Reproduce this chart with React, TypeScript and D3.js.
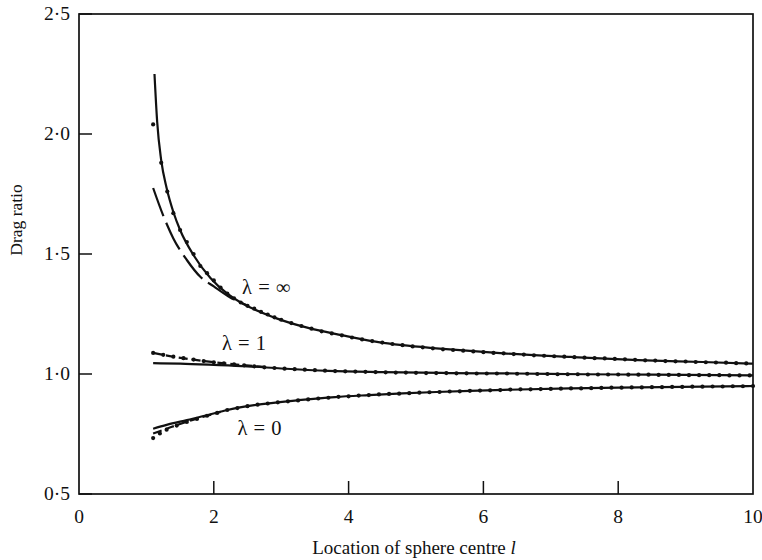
import React from "react";
import * as d3 from "d3";

type P = [number, number];

const xTicks = [0, 2, 4, 6, 8, 10];
const yTicks = [0.5, 1.0, 1.5, 2.0, 2.5];

// λ = ∞
const infTheory: P[] = [[1.12, 2.25], [1.16, 2.05], [1.22, 1.89], [1.3, 1.775], [1.4, 1.675], [1.5, 1.6], [1.7, 1.495], [1.95, 1.4], [2.2, 1.335], [2.4, 1.298], [2.9, 1.235], [3.4, 1.192], [3.9, 1.162], [4.4, 1.135], [4.8, 1.12], [5.3, 1.107], [5.8, 1.096], [6.3, 1.086], [7.3, 1.071], [8.3, 1.058], [9.25, 1.05], [10, 1.043]];
const infApprox: P[] = [[1.1, 1.775], [1.25, 1.66], [1.4, 1.565], [1.6, 1.475], [1.8, 1.405], [2.0, 1.365], [2.25, 1.318], [2.5, 1.285]];
const infDots: P[] = [[1.1, 2.04], [1.22, 1.88], [1.31, 1.76], [1.4, 1.67], [1.5, 1.6], [1.6, 1.55], [1.7, 1.5], [1.8, 1.45], [1.9, 1.42], [2.0, 1.39], [2.1, 1.36], [2.2, 1.335], [2.3, 1.315], [2.4, 1.298], [2.5, 1.284], [2.6, 1.272], [2.7, 1.259], [2.8, 1.248], [2.9, 1.236], [3.0, 1.226], [3.15, 1.212], [3.3, 1.2], [3.45, 1.189], [3.6, 1.178], [3.75, 1.169], [3.9, 1.161], [4.05, 1.152], [4.2, 1.144], [4.35, 1.137], [4.5, 1.131], [4.65, 1.125], [4.8, 1.12], [4.95, 1.115], [5.1, 1.111], [5.25, 1.107], [5.4, 1.103], [5.55, 1.1], [5.7, 1.097], [5.85, 1.094], [6.0, 1.091], [6.15, 1.088], [6.3, 1.086], [6.45, 1.083], [6.6, 1.081], [6.75, 1.078], [6.9, 1.076], [7.05, 1.074], [7.2, 1.072], [7.35, 1.07], [7.5, 1.068], [7.65, 1.066], [7.8, 1.065], [7.95, 1.063], [8.1, 1.061], [8.25, 1.059], [8.4, 1.057], [8.55, 1.056], [8.7, 1.054], [8.85, 1.053], [9.0, 1.052], [9.15, 1.05], [9.3, 1.049], [9.45, 1.048], [9.6, 1.047], [9.75, 1.045], [9.9, 1.044]];

// λ = 1
const oneTheory: P[] = [[1.1, 1.045], [1.5, 1.043], [2.0, 1.038], [2.5, 1.032], [3.0, 1.023], [3.7, 1.013], [4.5, 1.008], [5.5, 1.004], [6.5, 1.002], [7.5, 0.999], [8.5, 0.997], [10, 0.994]];
const oneApprox: P[] = [[1.1, 1.088], [1.4, 1.072], [1.7, 1.06], [2.0, 1.049], [2.4, 1.038], [2.8, 1.028]];
const oneDots: P[] = [[1.1, 1.088], [1.25, 1.08], [1.4, 1.072], [1.55, 1.066], [1.7, 1.06], [1.85, 1.054], [2.0, 1.049], [2.15, 1.044], [2.3, 1.04], [2.45, 1.036], [2.6, 1.032], [2.75, 1.028], [2.9, 1.025], [3.05, 1.022], [3.2, 1.02], [3.35, 1.018], [3.5, 1.016], [3.65, 1.014], [3.8, 1.012], [3.95, 1.011], [4.1, 1.01], [4.25, 1.009], [4.4, 1.008], [4.55, 1.007], [4.7, 1.006], [4.85, 1.006], [5.0, 1.005], [5.15, 1.004], [5.3, 1.004], [5.45, 1.004], [5.6, 1.003], [5.75, 1.003], [5.9, 1.002], [6.05, 1.002], [6.2, 1.002], [6.35, 1.002], [6.5, 1.001], [6.65, 1.001], [6.8, 1.0], [6.95, 1.0], [7.1, 0.999], [7.25, 0.999], [7.4, 0.999], [7.55, 0.998], [7.7, 0.998], [7.85, 0.998], [8.0, 0.998], [8.15, 0.997], [8.3, 0.997], [8.45, 0.997], [8.6, 0.996], [8.75, 0.996], [8.9, 0.996], [9.05, 0.995], [9.2, 0.995], [9.35, 0.995], [9.5, 0.995], [9.65, 0.994], [9.8, 0.994], [9.95, 0.994]];

// λ = 0
const zeroTheory: P[] = [[1.1, 0.772], [1.3, 0.788], [1.6, 0.808], [1.9, 0.828], [2.2, 0.85], [2.6, 0.87], [3.3, 0.892], [3.8, 0.904], [4.3, 0.912], [4.8, 0.919], [5.3, 0.925], [5.8, 0.93], [6.3, 0.934], [7.3, 0.94], [8.3, 0.944], [9.25, 0.947], [10, 0.95]];
const zeroApprox: P[] = [[1.1, 0.752], [1.3, 0.772], [1.5, 0.792], [1.7, 0.81], [1.9, 0.826], [2.1, 0.842]];
const zeroDots: P[] = [[1.1, 0.733], [1.2, 0.752], [1.3, 0.768], [1.45, 0.785], [1.6, 0.8], [1.75, 0.813], [1.9, 0.826], [2.05, 0.838], [2.2, 0.85], [2.35, 0.858], [2.5, 0.866], [2.65, 0.872], [2.8, 0.877], [2.95, 0.882], [3.1, 0.886], [3.25, 0.89], [3.4, 0.894], [3.55, 0.898], [3.7, 0.901], [3.85, 0.905], [4.0, 0.907], [4.15, 0.91], [4.3, 0.912], [4.45, 0.915], [4.6, 0.917], [4.75, 0.918], [4.9, 0.92], [5.05, 0.922], [5.2, 0.924], [5.35, 0.925], [5.5, 0.927], [5.65, 0.928], [5.8, 0.93], [5.95, 0.931], [6.1, 0.932], [6.25, 0.933], [6.4, 0.935], [6.55, 0.936], [6.7, 0.936], [6.85, 0.937], [7.0, 0.938], [7.15, 0.939], [7.3, 0.94], [7.45, 0.94], [7.6, 0.941], [7.75, 0.942], [7.9, 0.943], [8.05, 0.943], [8.2, 0.944], [8.35, 0.944], [8.5, 0.945], [8.65, 0.945], [8.8, 0.946], [8.95, 0.946], [9.1, 0.947], [9.25, 0.947], [9.4, 0.948], [9.55, 0.948], [9.7, 0.949], [9.85, 0.949], [10.0, 0.95]];

const curveLabels = [
  { text: "λ = ∞", x: 2.42, y: 1.335 },
  { text: "λ = 1", x: 2.12, y: 1.1 },
  { text: "λ = 0", x: 2.35, y: 0.745 },
];

const W = 762;
const H = 560;
const L = 79, R = 753, T = 14, B = 494;
const serif = "'Liberation Serif', 'DejaVu Serif', serif";
const ink = "#111";

export default function App() {
  const x = d3.scaleLinear().domain([0, 10]).range([L, R]);
  const y = d3.scaleLinear().domain([0.5, 2.5]).range([B, T]);
  const line = d3.line<P>().x(d => x(d[0])).y(d => y(d[1])).curve(d3.curveMonotoneX);
  const fmt = (v: number) => d3.format(".1f")(v).replace(".", "·");

  const theory = [infTheory, oneTheory, zeroTheory];
  const approx: { data: P[]; dash: string }[] = [
    { data: infApprox, dash: "30 7" },
    { data: oneApprox, dash: "9 4" },
    { data: zeroApprox, dash: "9 4" },
  ];
  const dots = [infDots, oneDots, zeroDots];

  return (
    <svg width={W} height={H} style={{ position: "absolute", left: 0, top: 0, background: "#fff" }}>
      <rect x={0} y={0} width={W} height={H} fill="#fff" />
      {/* frame */}
      <rect x={L} y={T} width={R - L} height={B - T} fill="none" stroke={ink} strokeWidth={1.7} />
      {/* y ticks */}
      {yTicks.map(t => (
        <g key={"y" + t}>
          <line x1={L} x2={L + 13} y1={y(t)} y2={y(t)} stroke={ink} strokeWidth={1.5} />
          <text x={70} y={y(t) + 6} textAnchor="end" fontFamily={serif} fontSize={19.5} fill={ink}>{fmt(t)}</text>
        </g>
      ))}
      {/* x ticks */}
      {xTicks.map(t => (
        <g key={"x" + t}>
          {t > 0 && t < 10 && <line x1={x(t)} x2={x(t)} y1={B} y2={B - 13} stroke={ink} strokeWidth={1.5} />}
          <text x={x(t)} y={523} textAnchor="middle" fontFamily={serif} fontSize={19.5} fill={ink}>{t}</text>
        </g>
      ))}
      <text x={414} y={554} textAnchor="middle" fontFamily={serif} fontSize={19} fill={ink}>
        Location of sphere centre <tspan fontStyle="italic">l</tspan>
      </text>
      <text transform={`translate(22, 220) rotate(-90)`} textAnchor="middle" fontFamily={serif} fontSize={17.5} fill={ink}>Drag ratio</text>

      {/* curves */}
      {theory.map((d, i) => (
        <path key={"t" + i} d={line(d) || ""} fill="none" stroke={ink} strokeWidth={2.2} />
      ))}
      {approx.map((a, i) => (
        <path key={"a" + i} d={line(a.data) || ""} fill="none" stroke={ink} strokeWidth={2.2} strokeDasharray={a.dash} />
      ))}
      {dots.map((d, i) => (
        <g key={"d" + i}>
          {d.map((p, j) => (
            <circle key={j} cx={x(p[0])} cy={y(p[1])} r={2.1} fill={ink} />
          ))}
        </g>
      ))}
      {curveLabels.map((c, i) => (
        <text key={"l" + i} x={x(c.x)} y={y(c.y)} fontFamily={serif} fontSize={20.5} fill={ink} style={{ wordSpacing: "1px" }}>{c.text}</text>
      ))}
    </svg>
  );
}
